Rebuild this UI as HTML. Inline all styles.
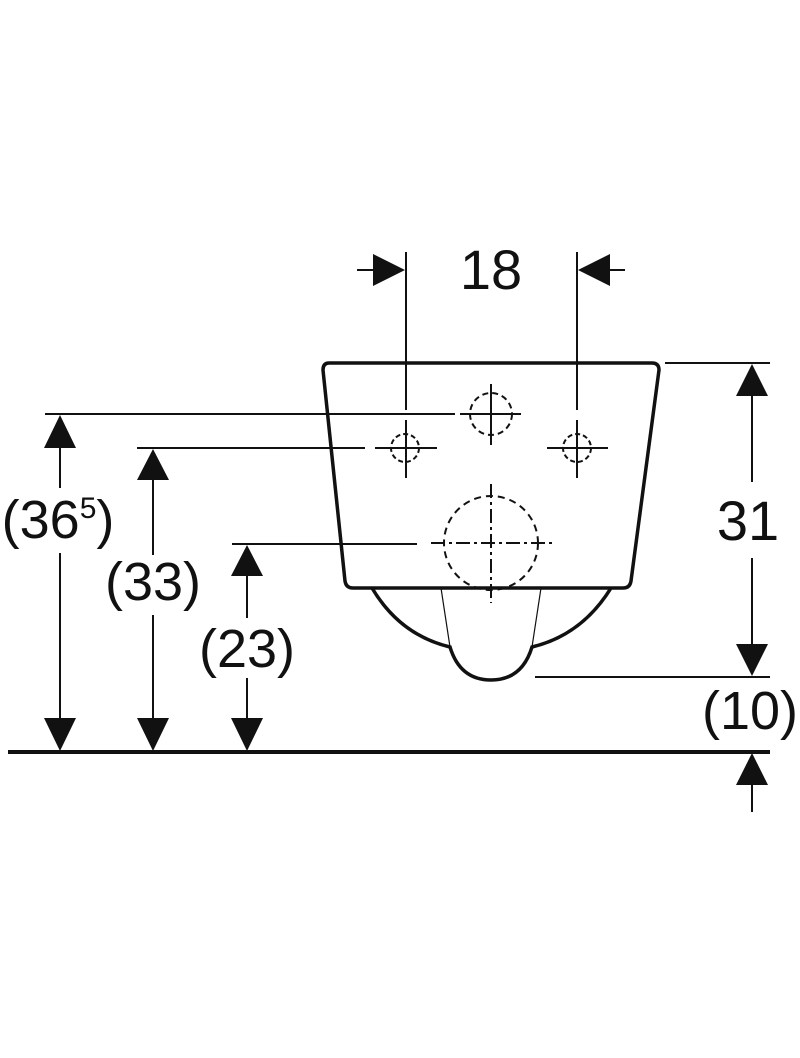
<!DOCTYPE html>
<html><head><meta charset="utf-8"><style>html,body{margin:0;padding:0;background:#fff}svg{display:block}</style></head>
<body>
<svg width="800" height="1058" viewBox="0 0 800 1058" xmlns="http://www.w3.org/2000/svg" font-family="Liberation Sans, sans-serif" fill="none" stroke="#111">
<!-- floor -->
<line x1="8" y1="752" x2="770" y2="752" stroke-width="4"/>
<!-- reference lines left -->
<line x1="45" y1="414" x2="455" y2="414" stroke-width="2"/>
<line x1="137" y1="448" x2="365" y2="448" stroke-width="2"/>
<line x1="232" y1="544" x2="417" y2="544" stroke-width="2"/>
<!-- left dims -->
<g stroke-width="2">
<line x1="60" y1="440" x2="60" y2="488"/><line x1="60" y1="553" x2="60" y2="722"/>
<line x1="153" y1="475" x2="153" y2="555"/><line x1="153" y1="615" x2="153" y2="722"/>
<line x1="247" y1="570" x2="247" y2="618"/><line x1="247" y1="678" x2="247" y2="722"/>
</g>
<g fill="#111" stroke="none">
<polygon points="60,415 44,448 76,448"/><polygon points="60,751 44,718 76,718"/>
<polygon points="153,449 137,480 169,480"/><polygon points="153,751 137,718 169,718"/>
<polygon points="247,545 231,576 263,576"/><polygon points="247,751 231,718 263,718"/>
</g>
<g fill="#111" stroke="none" font-size="54" text-anchor="middle">
<text x="58" y="538">(36<tspan font-size="30" dy="-20">5</tspan><tspan dy="20">)</tspan></text>
<text x="153" y="600">(33)</text>
<text x="247" y="667">(23)</text>
<text x="491" y="289" font-size="56">18</text>
<text x="748" y="540" font-size="56">31</text>
<text x="750" y="729">(10)</text>
</g>
<!-- 18 dim -->
<g stroke-width="2">
<line x1="406" y1="252" x2="406" y2="410"/><line x1="406" y1="420" x2="406" y2="478"/>
<line x1="577" y1="252" x2="577" y2="410"/><line x1="577" y1="420" x2="577" y2="478"/>
<line x1="357" y1="270" x2="374" y2="270"/><line x1="608" y1="270" x2="625" y2="270"/>
</g>
<g fill="#111" stroke="none">
<polygon points="405,270 373,254 373,286"/><polygon points="578,270 610,254 610,286"/>
</g>
<!-- right dims -->
<g stroke-width="2">
<line x1="665" y1="363" x2="770" y2="363"/>
<line x1="535" y1="677" x2="770" y2="677"/>
<line x1="752" y1="390" x2="752" y2="482"/><line x1="752" y1="558" x2="752" y2="650"/>
<line x1="752" y1="780" x2="752" y2="812"/>
</g>
<g fill="#111" stroke="none">
<polygon points="752,364 736,396 768,396"/><polygon points="752,676 736,644 768,644"/>
<polygon points="752,753 736,785 768,785"/>
</g>
<!-- bowl -->
<path d="M329,363 L652,363 Q659,363 659,370 L631,581 Q630,588 623,588 L353,588 Q346,588 345,581 L323,370 Q323,363 329,363 Z" stroke-width="3.5"/>
<path d="M372,588 Q400,635 450,647 Q460,680 491,680 Q522,680 532,647 Q582,635 611,588" stroke-width="3.5"/>
<line x1="441" y1="588" x2="450" y2="647" stroke-width="1.2"/>
<line x1="541" y1="588" x2="532" y2="647" stroke-width="1.2"/>
<!-- holes -->
<g stroke-width="2">
<circle cx="491" cy="414" r="21" stroke-dasharray="6,4"/>
<circle cx="405" cy="448" r="14" stroke-dasharray="5,3"/>
<circle cx="577" cy="448" r="14" stroke-dasharray="5,3"/>
<circle cx="491" cy="543" r="47" stroke-dasharray="7,5"/>
<line x1="491" y1="384" x2="491" y2="445"/><line x1="460" y1="414" x2="521" y2="414"/>
<line x1="375" y1="448" x2="437" y2="448"/>
<line x1="547" y1="448" x2="608" y2="448"/>
<line x1="491" y1="484" x2="491" y2="603" stroke-dasharray="14,4,3,4"/>
<line x1="431" y1="543" x2="552" y2="543" stroke-dasharray="14,4,3,4"/>
</g>
</svg>
</body></html>
